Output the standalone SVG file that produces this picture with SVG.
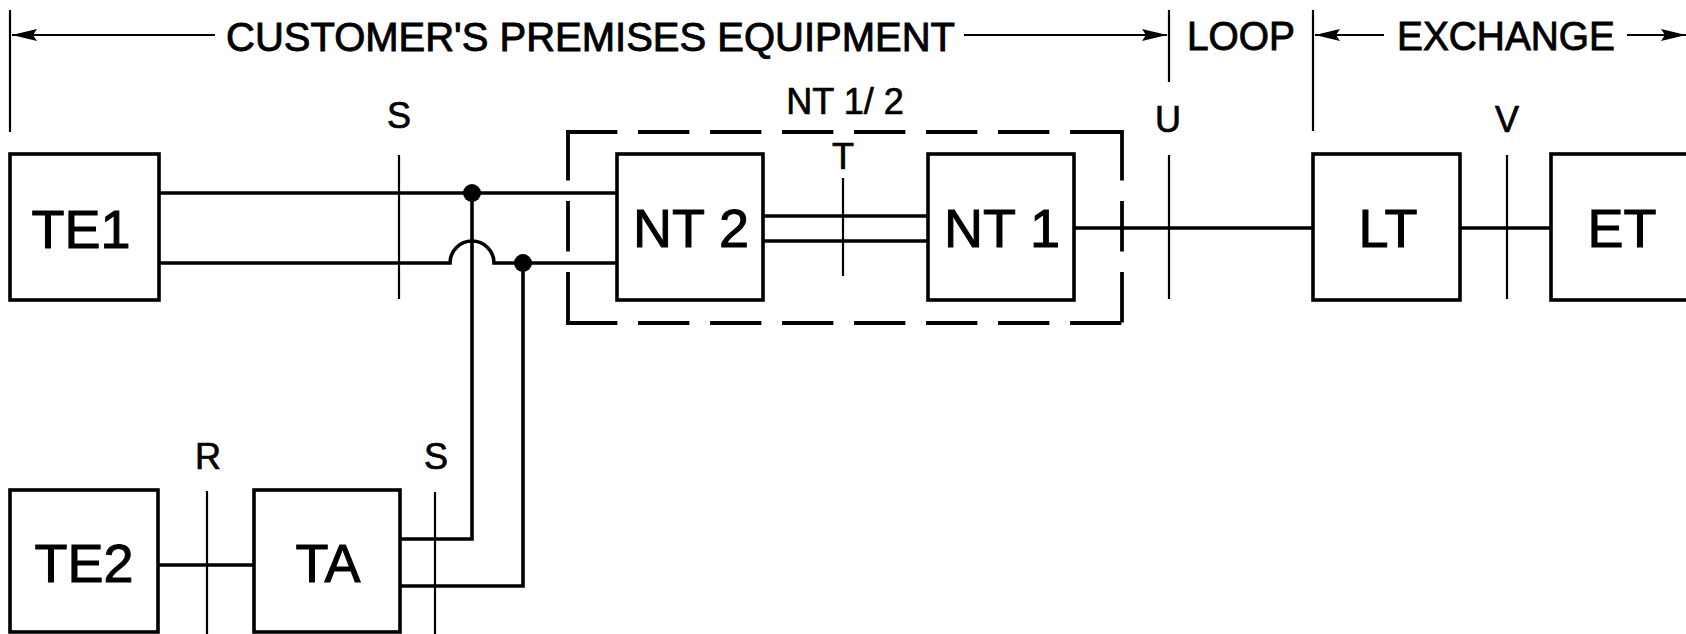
<svg xmlns="http://www.w3.org/2000/svg" width="1686" height="634" viewBox="0 0 1686 634">
<style>
  .box{fill:#fff;stroke:#000;stroke-width:3.6}
  .wire{fill:none;stroke:#000;stroke-width:3.6}
  .ref{fill:none;stroke:#000;stroke-width:2.2}
  .dim{fill:none;stroke:#000;stroke-width:2.2}
  .dash{fill:none;stroke:#000;stroke-width:3.8;stroke-linecap:square}
  .dot{fill:#000}
  text{font-family:"Liberation Sans",Arial,Helvetica,sans-serif;fill:#000;stroke:#000}
  .big{font-size:54px;text-anchor:middle;stroke-width:1}
  .lbl{font-size:36px;text-anchor:middle;stroke-width:0.7}
  .title{font-size:40px;stroke-width:0.9}
</style>
<defs>
  <marker id="arr" markerUnits="userSpaceOnUse" markerWidth="28" markerHeight="14" refX="25" refY="7" orient="auto">
    <path d="M0,1 L25,7 L0,13 L4,7 Z" fill="#000"/>
  </marker>
</defs>

<g id="header">
  <line class="dim" x1="10" y1="10" x2="10" y2="132"/>
  <line class="dim" x1="215" y1="35" x2="12" y2="35" marker-end="url(#arr)"/>
  <text class="title" x="226" y="51" textLength="729" lengthAdjust="spacingAndGlyphs">CUSTOMER'S PREMISES EQUIPMENT</text>
  <line class="dim" x1="964" y1="35" x2="1167" y2="35" marker-end="url(#arr)"/>
  <line class="dim" x1="1169" y1="10" x2="1169" y2="82"/>
  <text class="title" x="1187" y="50" textLength="108" lengthAdjust="spacingAndGlyphs">LOOP</text>
  <line class="dim" x1="1313" y1="10" x2="1313" y2="131"/>
  <line class="dim" x1="1384" y1="35" x2="1315" y2="35" marker-end="url(#arr)"/>
  <text class="title" x="1397" y="50" textLength="218" lengthAdjust="spacingAndGlyphs">EXCHANGE</text>
  <line class="dim" x1="1627" y1="35" x2="1686" y2="35" marker-end="url(#arr)"/>
</g>

<g id="reference-points">
  <line class="ref" x1="399" y1="155" x2="399" y2="299"/>
  <text class="lbl" x="399" y="128">S</text>
  <line class="ref" x1="843" y1="178" x2="843" y2="276"/>
  <text class="lbl" x="843" y="169">T</text>
  <line class="ref" x1="1169" y1="155" x2="1169" y2="299"/>
  <text class="lbl" x="1168" y="132">U</text>
  <line class="ref" x1="1507" y1="155" x2="1507" y2="299"/>
  <text class="lbl" x="1507" y="132">V</text>
  <line class="ref" x1="207" y1="491" x2="207" y2="634"/>
  <text class="lbl" x="208" y="469">R</text>
  <line class="ref" x1="435" y1="492" x2="435" y2="634"/>
  <text class="lbl" x="436" y="469">S</text>
</g>

<g id="connectors">
  <path class="wire" d="M159,193 H617"/>
  <path class="wire" d="M159,263 H450 A22,22 0 0 1 494,263 H617"/>
  <path class="wire" d="M472,193 V539 H400"/>
  <path class="wire" d="M523,263 V586 H400"/>
  <path class="wire" d="M763,216 H928"/>
  <path class="wire" d="M763,241 H928"/>
  <path class="wire" d="M1074,228 H1313"/>
  <path class="wire" d="M1460,228 H1551"/>
  <path class="wire" d="M158,565 H254"/>
  <circle class="dot" cx="472" cy="193" r="9"/>
  <circle class="dot" cx="523" cy="263" r="9"/>
</g>

<g id="NT12">
  <path class="dash" d="M568,132 H1122" stroke-dasharray="47.5 24.5"/>
  <path class="dash" d="M568,323 H1122" stroke-dasharray="47.5 24.5"/>
  <path class="dash" d="M568,132 V323" stroke-dasharray="46.5 24.5"/>
  <path class="dash" d="M1122,132 V323" stroke-dasharray="46.5 24.5"/>
  <text class="lbl" x="845" y="114" font-size="37">NT 1/ 2</text>
</g>

<g id="TE1">
  <rect class="box" x="10" y="154" width="149" height="146"/>
  <text class="big" x="81" y="248">TE1</text>
</g>
<g id="NT2">
  <rect class="box" x="617" y="154" width="146" height="146"/>
  <text class="big" x="691" y="247">NT 2</text>
</g>
<g id="NT1">
  <rect class="box" x="928" y="154" width="146" height="146"/>
  <text class="big" x="1002" y="247">NT 1</text>
</g>
<g id="LT">
  <rect class="box" x="1313" y="154" width="147" height="146"/>
  <text class="big" x="1388" y="247">LT</text>
</g>
<g id="ET">
  <rect class="box" x="1551" y="154" width="160" height="146"/>
  <text class="big" x="1622" y="247">ET</text>
</g>
<g id="TE2">
  <rect class="box" x="10" y="490" width="148" height="142"/>
  <text class="big" x="84" y="582">TE2</text>
</g>
<g id="TA">
  <rect class="box" x="254" y="490" width="146" height="142"/>
  <text class="big" x="328" y="582">TA</text>
</g>
</svg>
